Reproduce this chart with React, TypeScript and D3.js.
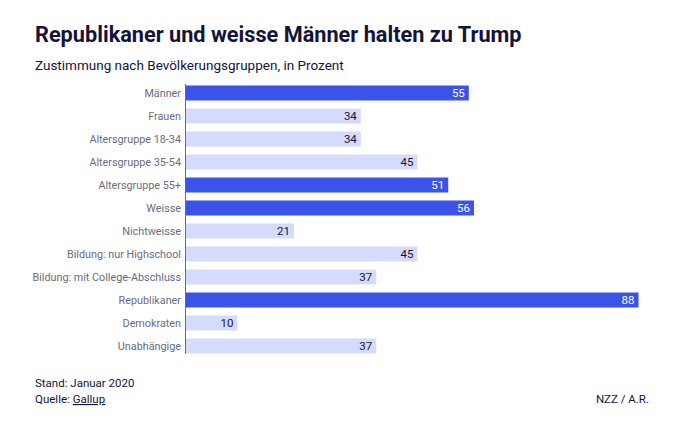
import React, { useEffect, useRef } from "react";
import * as d3 from "d3";

const categories = [
  "Männer",
  "Frauen",
  "Altersgruppe 18-34",
  "Altersgruppe 35-54",
  "Altersgruppe 55+",
  "Weisse",
  "Nichtweisse",
  "Bildung: nur Highschool",
  "Bildung: mit College-Abschluss",
  "Republikaner",
  "Demokraten",
  "Unabhängige",
];
const values = [55, 34, 34, 45, 51, 56, 21, 45, 37, 88, 10, 37];
const highlighted = [true, false, false, false, true, true, false, false, false, true, false, false];

const title = "Republikaner und weisse Männer halten zu Trump";
const subtitle = "Zustimmung nach Bevölkerungsgruppen, in Prozent";

const W = 690;
const H = 429;
const DARK = "#3b53e9";
const LIGHT = "#d5dbfb";
const TEXT = "#14143a";
const FONT = "Roboto, 'Noto Sans', sans-serif";

export default function App() {
  const ref = useRef<SVGSVGElement>(null);

  useEffect(() => {
    const svg = d3.select(ref.current);
    svg.selectAll("*").remove();

    const x = d3.scaleLinear().domain([0, 88]).range([186, 638.5]);
    const y = d3
      .scaleBand()
      .domain(categories)
      .range([81.5, 357.5])
      .paddingInner(0.348)
      .paddingOuter(0.174);

    svg
      .append("text")
      .attr("x", 35)
      .attr("y", 42)
      .attr("font-family", FONT)
      .attr("font-size", 21.7)
      .attr("font-weight", 700)
      .attr("fill", TEXT)
      .text(title);

    svg
      .append("text")
      .attr("x", 35)
      .attr("y", 70)
      .attr("font-family", FONT)
      .attr("font-size", 13.5)
      .attr("fill", TEXT)
      .text(subtitle);

    const g = svg.append("g");
    const rows = g
      .selectAll("g.row")
      .data(categories)
      .join("g")
      .attr("class", "row");

    rows
      .append("rect")
      .attr("x", x(0))
      .attr("y", (d) => y(d)!)
      .attr("height", y.bandwidth())
      .attr("width", (d, i) => x(values[i]) - x(0))
      .attr("fill", (d, i) => (highlighted[i] ? DARK : LIGHT));

    rows
      .append("text")
      .attr("x", 181)
      .attr("y", (d) => y(d)! + y.bandwidth() / 2)
      .attr("dy", "0.35em")
      .attr("text-anchor", "end")
      .attr("font-family", FONT)
      .attr("font-size", 10.8)
      .attr("fill", "#6b6b7d")
      .text((d) => d);

    rows
      .append("text")
      .attr("x", (d, i) => x(values[i]) - 4)
      .attr("y", (d) => y(d)! + y.bandwidth() / 2)
      .attr("dy", "0.35em")
      .attr("text-anchor", "end")
      .attr("font-family", FONT)
      .attr("font-size", 11.5)
      .attr("fill", (d, i) => (highlighted[i] ? "#ffffff" : TEXT))
      .text((d, i) => String(values[i]));

    g.append("line")
      .attr("x1", 185.5)
      .attr("x2", 185.5)
      .attr("y1", 84)
      .attr("y2", 354)
      .attr("stroke", "#6b6b7d")
      .attr("stroke-width", 1);

    svg
      .append("text")
      .attr("x", 35)
      .attr("y", 387)
      .attr("font-family", FONT)
      .attr("font-size", 11.5)
      .attr("fill", TEXT)
      .text("Stand: Januar 2020");

    const q = svg
      .append("text")
      .attr("x", 35)
      .attr("y", 403)
      .attr("font-family", FONT)
      .attr("font-size", 11.5)
      .attr("fill", TEXT);
    q.append("tspan").text("Quelle: ");
    q.append("tspan").attr("text-decoration", "underline").text("Gallup");

    svg
      .append("text")
      .attr("x", 649)
      .attr("y", 403)
      .attr("text-anchor", "end")
      .attr("font-family", FONT)
      .attr("font-size", 11.5)
      .attr("fill", TEXT)
      .text("NZZ / A.R.");
  }, []);

  return (
    <svg
      ref={ref}
      width={W}
      height={H}
      style={{ position: "absolute", left: 0, top: 0, background: "#fff" }}
    />
  );
}
